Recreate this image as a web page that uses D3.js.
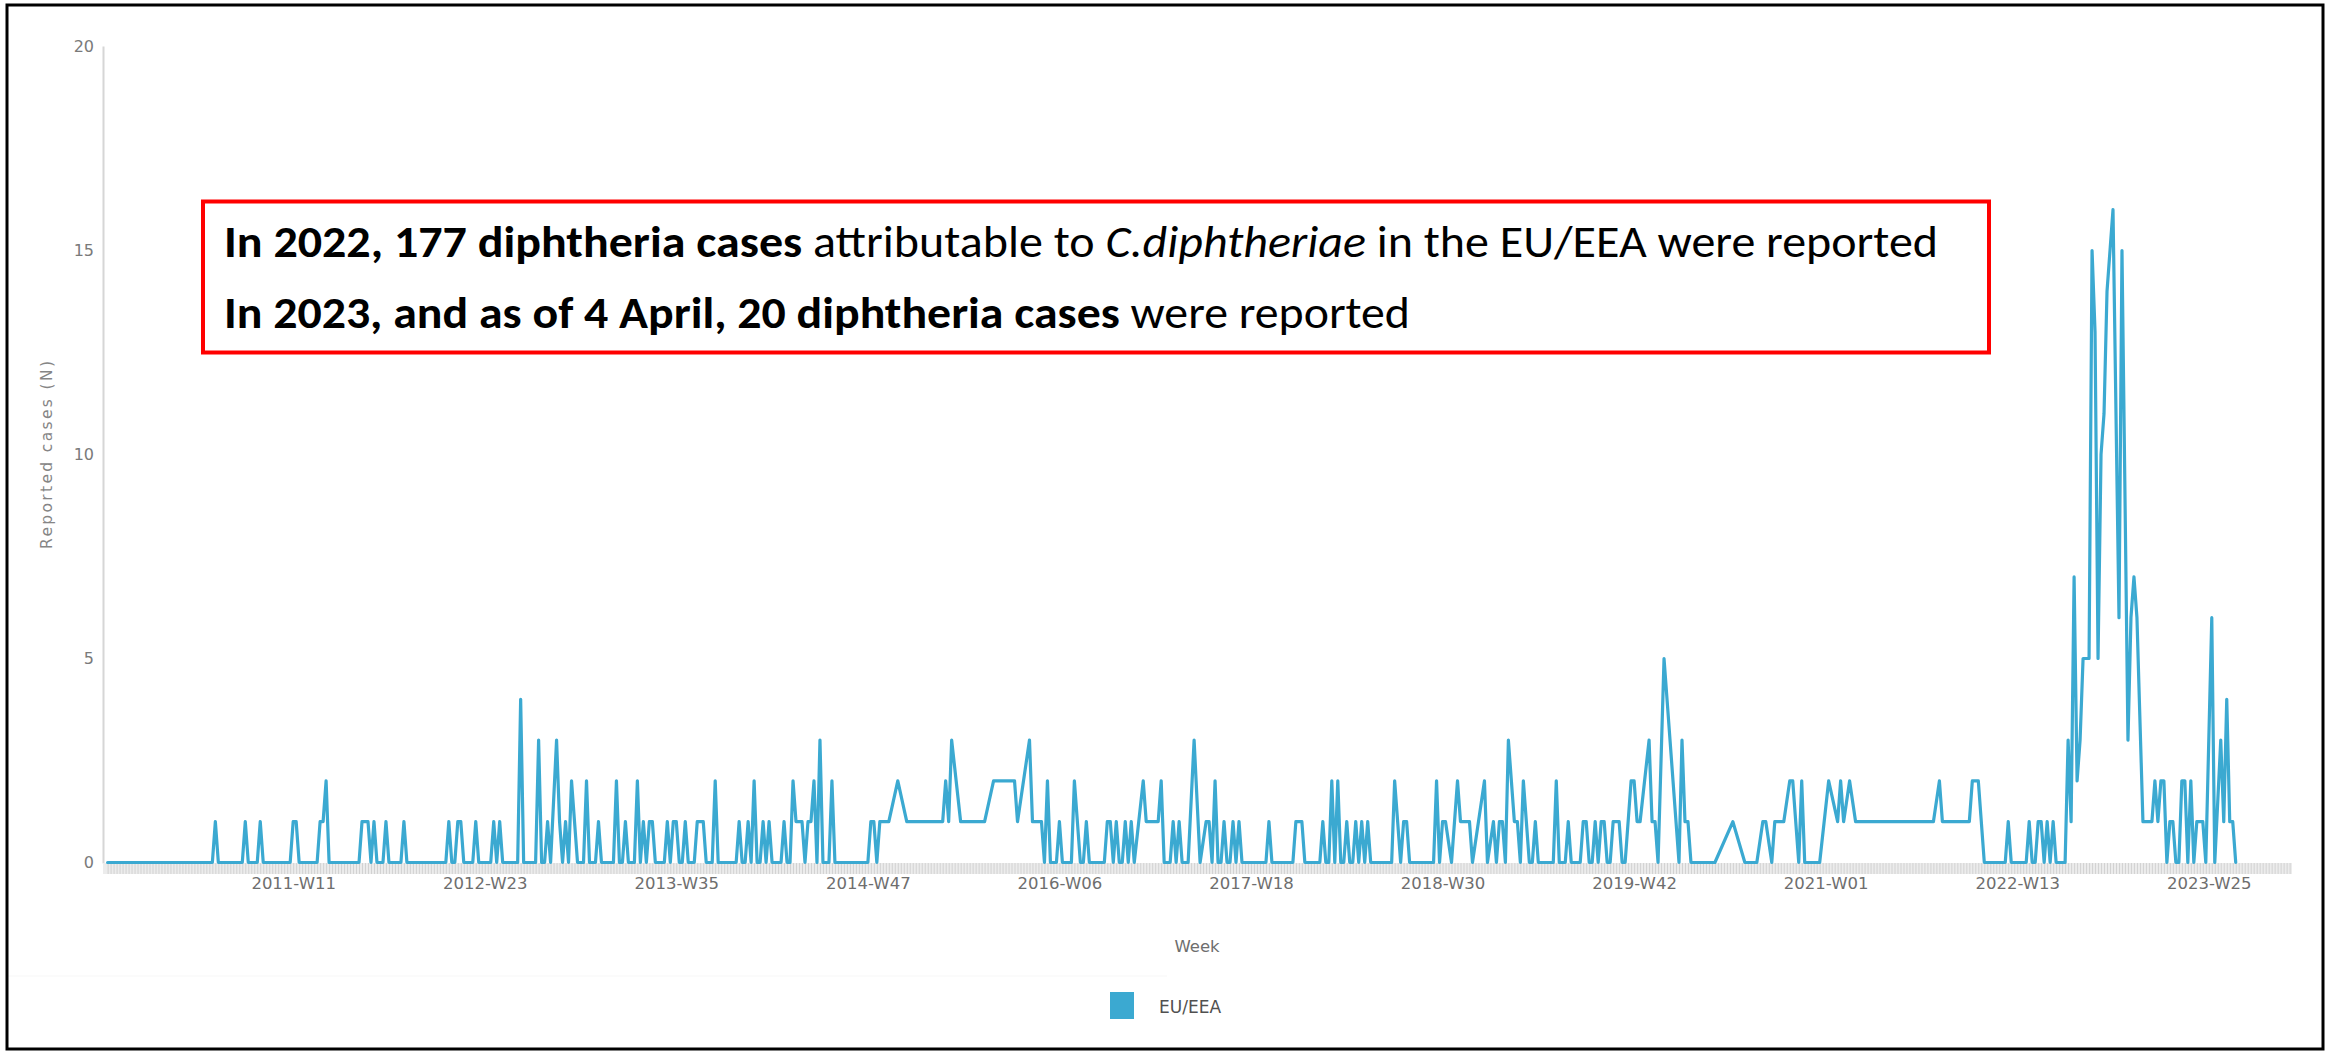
<!DOCTYPE html>
<html>
<head>
<meta charset="utf-8">
<script src="https://cdn.jsdelivr.net/npm/d3@7/dist/d3.min.js"></script>
<style>
  body { margin: 0; background: #fff; }
  svg { display: block; }
</style>
</head>
<body>
<div id="chart"></div>
<script>
// Weekly reported diphtheria cases, EU/EEA.
// null = week not in the series, the line just bridges it.
const years = [2010, 2011, 2012, 2013, 2014, 2015, 2016, 2017, 2018, 2019, 2020, 2021, 2022, 2023];
const weeksPerYear = [52, 52, 52, 52, 52, 53, 52, 52, 52, 52, 53, 52, 52, 52];
const tickLabels = ["2011-W11", "2012-W23", "2013-W35", "2014-W47", "2016-W06", "2017-W18",
  "2018-W30", "2019-W42", "2021-W01", "2022-W13", "2023-W25"];
const yTicks = [0, 5, 10, 15, 20];
const seriesName = "EU/EEA";

const cases2010 = [0,0,0,0,0,0,0,0,0,0,0,0,0,
  0,0,0,0,0,0,0,0,0,0,0,0,0,
  0,0,0,0,0,0,0,0,0,0,1,0,0,
  0,0,0,0,0,0,0,1,0,0,0,0,1];
const cases2011 = [0,0,0,0,0,0,0,0,0,0,1,1,0,
  0,0,0,0,0,0,1,1,2,0,0,0,0,
  0,0,0,0,0,0,0,1,1,1,0,1,0,
  0,0,1,0,0,0,0,0,1,0,0,0,0];
const cases2012 = [0,0,0,0,0,0,0,0,0,0,1,0,0,
  1,1,0,0,0,0,1,0,0,0,0,0,1,
  0,1,0,0,0,0,0,0,4,0,0,0,0,
  0,3,0,0,1,0,null,3,1,0,1,0,2];
const cases2013 = [null,0,0,0,2,0,0,0,1,0,0,0,0,
  0,2,0,0,1,0,0,0,2,0,1,0,1,
  1,0,0,0,0,1,0,1,1,0,0,1,0,
  0,0,1,1,1,0,0,0,2,0,0,0,0];
const cases2014 = [0,0,0,1,0,0,1,0,2,0,0,1,0,
  1,0,0,0,0,1,0,0,2,1,1,1,0,
  1,1,2,0,3,0,0,0,2,0,0,0,0,
  0,0,0,0,0,0,0,0,1,1,0,1,1];
const cases2015 = [1,1,null,null,2,null,null,1,null,null,null,null,null,
  null,null,null,null,null,null,1,2,1,3,null,null,1,
  null,null,null,null,null,null,null,1,null,null,2,null,null,
  null,null,null,null,2,1,null,null,null,3,1,null,null,1];
const cases2016 = [0,2,0,0,0,1,0,0,0,0,2,null,0,
  0,1,0,0,0,0,0,0,1,1,0,1,0,
  0,1,0,1,0,null,null,2,1,null,null,1,1,
  2,0,0,0,1,0,1,0,0,0,null,3,null];
const cases2017 = [0,null,1,1,0,2,0,0,1,0,0,1,0,
  1,0,0,0,0,0,0,0,0,0,1,0,0,
  0,0,0,0,0,0,1,1,1,0,0,0,0,
  0,0,1,0,0,2,0,2,0,0,1,0,0];
const cases2018 = [1,0,1,0,1,0,0,0,0,0,0,0,0,
  2,null,0,1,1,0,0,0,0,0,0,0,0,
  0,2,0,1,1,null,0,null,2,1,null,null,1,
  0,null,1,null,2,0,null,1,0,1,1,0,3];
const cases2019 = [null,1,1,0,2,1,0,0,1,0,0,0,0,
  0,0,2,0,0,0,1,0,0,0,0,1,1,
  0,0,1,0,1,1,0,0,1,1,1,0,0,
  null,2,2,1,1,null,null,3,1,1,0,null,5];
const cases2020 = [null,null,null,null,0,3,1,1,0,0,0,0,0,
  0,0,0,0,null,null,null,null,null,1,null,null,null,
  0,0,0,0,0,null,1,1,null,0,1,null,null,
  1,null,2,2,null,0,2,0,0,0,0,0,0,null];
const cases2021 = [null,2,null,null,1,2,1,null,2,null,1,null,null,
  null,null,null,null,null,null,null,null,null,null,null,null,null,
  null,null,null,null,null,null,null,null,null,null,1,null,2,
  1,null,null,null,null,null,null,null,null,1,2,2,2];
const cases2022 = [null,0,0,0,0,0,0,0,0,1,0,0,0,
  0,0,0,1,0,0,1,1,0,1,0,1,0,
  0,0,0,3,1,7,2,3,5,5,5,15,13,
  5,10,11,14,null,16,null,6,15,null,3,6,7];
const cases2023 = [6,null,1,null,null,1,2,1,2,2,0,1,1,
  0,0,2,2,0,2,0,1,null,1,0,null,6,
  0,null,3,1,4,1,1,0];
const casesByYear = [cases2010, cases2011, cases2012, cases2013, cases2014, cases2015, cases2016,
  cases2017, cases2018, cases2019, cases2020, cases2021, cases2022, cases2023];

const width = 2330, height = 1054;
const lineColor = "#3ba9d1";

const weekLabel = (yr, w) => yr + "-W" + String(w).padStart(2, "0");

// every ISO week on the axis, even the ones without data
const categories = [];
years.forEach((yr, k) => {
  for (let w = 1; w <= weeksPerYear[k]; w++) categories.push(weekLabel(yr, w));
});

const points = [];
years.forEach((yr, k) => {
  casesByYear[k].forEach((v, j) => {
    if (v !== null) points.push({ week: weekLabel(yr, j + 1), value: v });
  });
});

const svg = d3.select("#chart").append("svg")
  .attr("width", width)
  .attr("height", height)
  .style("font-family", "'DejaVu Sans', sans-serif");

svg.append("rect")
  .attr("width", width).attr("height", height)
  .attr("fill", "#fff");

const x = d3.scalePoint().domain(categories).range([107.6, 2289.6]);
const y = d3.scaleLinear().domain([0, 20]).range([862.5, 46.5]);

// y axis: thin grey line, labels on the left
svg.append("line")
  .attr("x1", 103.5).attr("x2", 103.5)
  .attr("y1", y(20)).attr("y2", y(0) + 1)
  .attr("stroke", "#d6d6d6").attr("stroke-width", 2);

svg.append("g")
  .selectAll("text")
  .data(yTicks)
  .join("text")
  .attr("x", 94)
  .attr("y", d => y(d))
  .attr("dy", "0.36em")
  .attr("text-anchor", "end")
  .attr("font-size", 16)
  .attr("fill", "#7a7a7a")
  .text(d => d);

svg.append("text")
  .attr("transform", "translate(52," + 455 + ") rotate(-90)")
  .attr("text-anchor", "middle")
  .attr("font-size", 15.5)
  .attr("fill", "#858585")
  .attr("textLength", 188)
  .attr("lengthAdjust", "spacing")
  .text("Reported cases (N)");

// x axis: grey band of one small tick per week
svg.append("rect")
  .attr("x", 103).attr("y", y(0) + 0.5)
  .attr("width", 2292 - 103).attr("height", 11)
  .attr("fill", "#ececec");

const minorAxis = svg.append("g")
  .attr("transform", "translate(0," + (y(0) + 0.5) + ")")
  .call(d3.axisBottom(x).tickValues(categories).tickFormat("").tickSize(11).tickSizeOuter(0));
minorAxis.select(".domain").remove();
minorAxis.selectAll(".tick line").attr("stroke", "#d2d2d2");

const majorAxis = svg.append("g")
  .attr("transform", "translate(0," + (y(0) + 0.5) + ")")
  .call(d3.axisBottom(x).tickValues(tickLabels).tickSize(0).tickPadding(14));
majorAxis.select(".domain").remove();
majorAxis.selectAll(".tick text")
  .attr("font-family", "'DejaVu Sans', sans-serif")
  .attr("font-size", 16.5)
  .attr("fill", "#6e6e6e");

svg.append("text")
  .attr("x", 1197).attr("y", 952)
  .attr("text-anchor", "middle")
  .attr("font-size", 16.5)
  .attr("fill", "#6e6e6e")
  .text("Week");

// the series
svg.append("path")
  .datum(points)
  .attr("fill", "none")
  .attr("stroke", lineColor)
  .attr("stroke-width", 3.2)
  .attr("stroke-linejoin", "round")
  .attr("stroke-linecap", "round")
  .attr("d", d3.line().x(d => x(d.week)).y(d => y(d.value)));

// very faint separator above the legend
svg.append("line")
  .attr("x1", 8).attr("x2", 1167)
  .attr("y1", 976).attr("y2", 976)
  .attr("stroke", "#fafafa").attr("stroke-width", 1.5);

// legend
svg.append("rect")
  .attr("x", 1110).attr("y", 992)
  .attr("width", 24).attr("height", 27)
  .attr("fill", lineColor);
svg.append("text")
  .attr("x", 1159).attr("y", 1013)
  .attr("font-size", 17)
  .attr("fill", "#505050")
  .text(seriesName);

// annotation box
svg.append("rect")
  .attr("x", 203).attr("y", 201.5)
  .attr("width", 1786).attr("height", 151)
  .attr("fill", "#fff")
  .attr("stroke", "#ff0000")
  .attr("stroke-width", 4);

const note1 = svg.append("text")
  .attr("x", 224).attr("y", 257)
  .attr("font-family", "Carlito, Lato, sans-serif")
  .attr("font-size", 45)
  .attr("fill", "#000")
  .attr("textLength", 1714)
  .attr("lengthAdjust", "spacingAndGlyphs");
note1.append("tspan").attr("font-weight", "bold").text("In 2022, 177 diphtheria cases");
note1.append("tspan").text(" attributable to ");
note1.append("tspan").attr("font-style", "italic").text("C.diphtheriae");
note1.append("tspan").text(" in the EU/EEA were reported");

const note2 = svg.append("text")
  .attr("x", 224).attr("y", 328)
  .attr("font-family", "Carlito, Lato, sans-serif")
  .attr("font-size", 45)
  .attr("fill", "#000")
  .attr("textLength", 1186)
  .attr("lengthAdjust", "spacingAndGlyphs");
note2.append("tspan").attr("font-weight", "bold").text("In 2023, and as of 4 April, 20 diphtheria cases");
note2.append("tspan").text(" were reported");

// outer frame
svg.append("rect")
  .attr("x", 7).attr("y", 5)
  .attr("width", 2316).attr("height", 1044)
  .attr("fill", "none")
  .attr("stroke", "#000")
  .attr("stroke-width", 3);
</script>
</body>
</html>
